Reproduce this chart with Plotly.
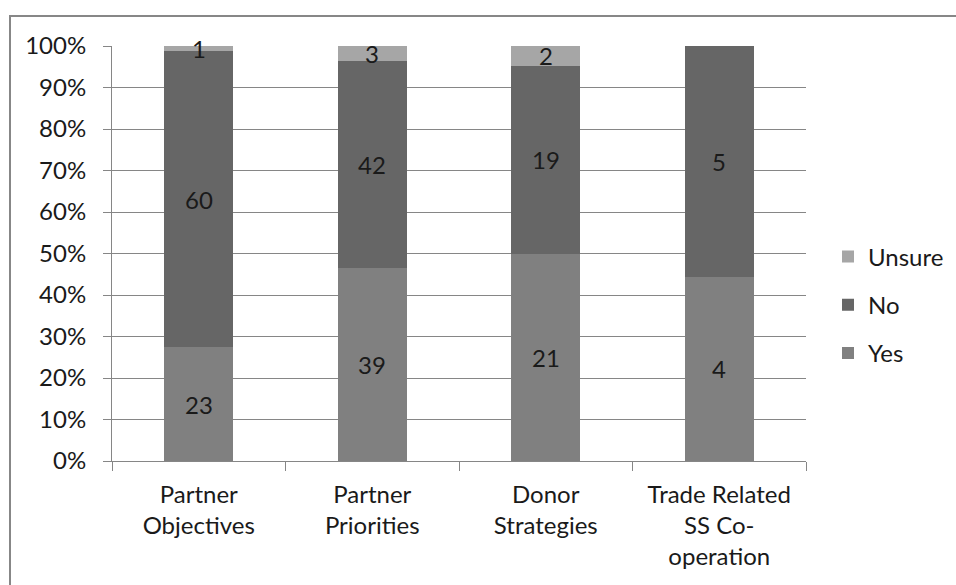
import plotly.graph_objects as go

categories = ["Partner<br>Objectives", "Partner<br>Priorities", "Donor<br>Strategies", "Trade Related<br>SS Co-<br>operation"]
yes_vals = [23, 39, 21, 4]
no_vals = [60, 42, 19, 5]
unsure_vals = [1, 3, 2, 0]

series = [
    ("Yes", yes_vals, "#808080"),
    ("No", no_vals, "#666666"),
    ("Unsure", unsure_vals, "#a6a6a6"),
]

FONT = "Lato"
FS = 24
TXT = "#1a1a1a"
GRID = "#868686"

fig = go.Figure()
for i, (name, vals, col) in enumerate(series):
    fig.add_trace(go.Bar(
        x=categories, y=vals, name=name, marker=dict(color=col, line=dict(width=0)),
        legendgroup=name, legendrank=10 - i, hoverinfo="skip",
    ))

# data labels at segment midpoints (percent of category total)
totals = [a + b + c for a, b, c in zip(yes_vals, no_vals, unsure_vals)]
annotations = []
for ci, cat in enumerate(categories):
    base = 0.0
    for name, vals, col in series:
        v = vals[ci]
        pct = 100.0 * v / totals[ci]
        if v > 0:
            annotations.append(dict(
                x=cat, y=base + pct / 2, xref="x", yref="y", text=str(v),
                showarrow=False, font=dict(family=FONT, size=FS, color=TXT),
            ))
        base += pct

W, H = 956, 585
L, R, T, B = 112, 806, 46, 461

def px2x(px):
    return (px - L) / (R - L)

def py2y(py):
    return (B - py) / (B - T)

fig.add_shape(type="rect", xref="paper", yref="paper",
              x0=px2x(10), x1=px2x(980), y0=py2y(620), y1=py2y(16),
              line=dict(color="#878787", width=2), fillcolor="rgba(0,0,0,0)", layer="below")

fig.update_layout(
    width=W, height=H,
    barmode="stack", barnorm="percent", bargap=0.6,
    paper_bgcolor="white", plot_bgcolor="white",
    margin=dict(l=L, r=W - R, t=T, b=H - B, autoexpand=False),
    font=dict(family=FONT, size=FS, color=TXT),
    annotations=annotations,
    legend=dict(
        x=px2x(828), xanchor="left", y=py2y(305), yanchor="middle",
        traceorder="reversed+grouped", tracegroupgap=14,
        font=dict(family=FONT, size=FS, color=TXT),
        bgcolor="rgba(0,0,0,0)",
    ),
    xaxis=dict(
        showline=True, linecolor=GRID, linewidth=1,
        ticks="outside", ticklen=9, tickcolor=GRID, tickson="boundaries",
        showgrid=False, ticklabelstandoff=12,
        tickfont=dict(family=FONT, size=FS, color=TXT),
    ),
    yaxis=dict(
        range=[0, 100], dtick=10, ticksuffix="%",
        showline=True, linecolor=GRID, linewidth=1,
        ticks="outside", ticklen=8, tickcolor=GRID,
        showgrid=True, gridcolor=GRID, gridwidth=1, zeroline=False,
        ticklabelstandoff=12,
        tickfont=dict(family=FONT, size=FS, color=TXT),
    ),
)

fig.write_html(
    "out.html",
    config={"displayModeBar": False},
    post_script="document.body.style.margin='0';document.body.style.overflow='hidden';",
)
